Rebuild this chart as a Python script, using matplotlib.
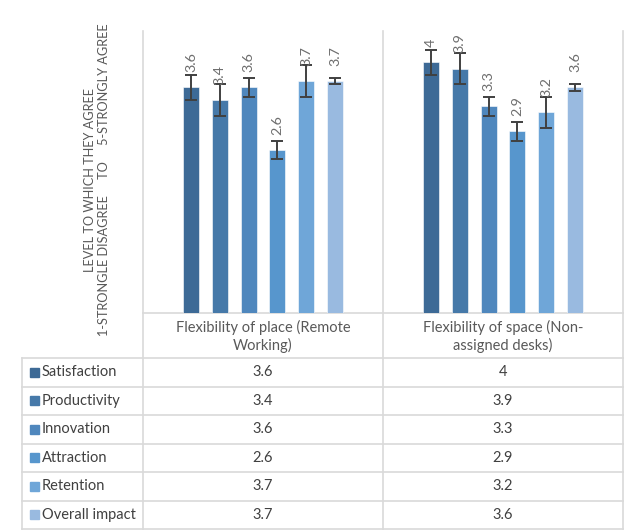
import numpy as np
import matplotlib
matplotlib.use("Agg")
import matplotlib.pyplot as plt
from matplotlib.patches import Rectangle

plt.rcParams["font.family"] = ["Lato", "DejaVu Sans"]

categories = ["Flexibility of place (Remote\nWorking)", "Flexibility of space (Non-\nassigned desks)"]
series = ["Satisfaction", "Productivity", "Innovation", "Attraction", "Retention", "Overall impact"]
satisfaction = [3.6, 4.0]
productivity = [3.4, 3.9]
innovation = [3.6, 3.3]
attraction = [2.6, 2.9]
retention = [3.7, 3.2]
overall_impact = [3.7, 3.6]
satisfaction_err = [0.2, 0.2]
productivity_err = [0.25, 0.25]
innovation_err = [0.15, 0.15]
attraction_err = [0.15, 0.15]
retention_err = [0.25, 0.25]
overall_impact_err = [0.05, 0.05]
colors = ["#3d6a96", "#4679a9", "#4f87bd", "#5796cd", "#6fa6d8", "#99bae0"]
y_title = "LEVEL TO WHICH THEY AGREE\n1-STRONGLE DISAGREE     TO     5-STRONGLY AGREE"

values = [satisfaction, productivity, innovation, attraction, retention, overall_impact]
errors = [satisfaction_err, productivity_err, innovation_err, attraction_err, retention_err, overall_impact_err]

W, H = 626, 531
fig = plt.figure(figsize=(W / 100, H / 100), dpi=100)

# pixel layout
left, right, top, base = 143, 623, 31, 313
ax = fig.add_axes([left / W, 1 - base / H, (right - left) / W, (base - top) / H])
ax.set_xlim(-0.5, 1.5)
ax.set_ylim(0, 4.5)
ax.axis("off")

x = np.arange(len(categories))
step, width = 0.12, 0.067
label_color = "#6e6e6e"
for i, (vals, errs) in enumerate(zip(values, errors)):
    xs = x + (i - 2.5) * step
    ax.bar(xs, vals, width=width, color=colors[i], edgecolor="#ffffff", linewidth=0.4, zorder=2)
    ax.errorbar(xs, vals, yerr=errs, fmt="none", ecolor="#404040", elinewidth=1.4,
                capsize=4.5, capthick=1.4, zorder=3)
    for xi, v in zip(xs, vals):
        ax.annotate(f"{v:g}", (xi, v), xytext=(0, 11), textcoords="offset points",
                    rotation=90, ha="center", va="bottom", fontsize=10.3, color=label_color)

# overlay in pixel coordinates for the table and grid
tb = fig.add_axes([0, 0, 1, 1], zorder=-1)
tb.set_xlim(0, W)
tb.set_ylim(H, 0)
tb.axis("off")

grid = "#d9d9d9"
lw = 1.2
mid = (left + right) / 2
table_left = 22
row_top = 358
row_h = (529 - row_top) / len(series)
table_bottom = row_top + row_h * len(series)

tb.plot([left, right], [base, base], color=grid, lw=lw)
for xv in (left, mid, right):
    tb.plot([xv, xv], [top, table_bottom], color=grid, lw=lw)
tb.plot([table_left, table_left], [row_top, table_bottom], color=grid, lw=lw)
for r in range(len(series) + 1):
    yv = row_top + r * row_h
    tb.plot([table_left, right], [yv, yv], color=grid, lw=lw)

text_color = "#404040"
col_centers = [(left + mid) / 2, (mid + right) / 2]
for cx, cat in zip(col_centers, categories):
    tb.text(cx, (base + row_top) / 2 + 1, cat, ha="center", va="center",
            fontsize=10.5, color="#595959", linespacing=1.2)

for r, name in enumerate(series):
    yc = row_top + (r + 0.5) * row_h
    tb.add_patch(Rectangle((30, yc - 4.5), 9, 9, color=colors[r]))
    tb.text(42, yc, name, ha="left", va="center", fontsize=10.5, color=text_color)
    for cx, v in zip(col_centers, values[r]):
        tb.text(cx, yc, f"{v:g}", ha="center", va="center", fontsize=10.5, color=text_color)

tb.text(97, 180, y_title, rotation=90, ha="center", va="center", fontsize=9.2,
        color="#595959", linespacing=1.25, multialignment="center")

fig.savefig("out.png", dpi=100)
